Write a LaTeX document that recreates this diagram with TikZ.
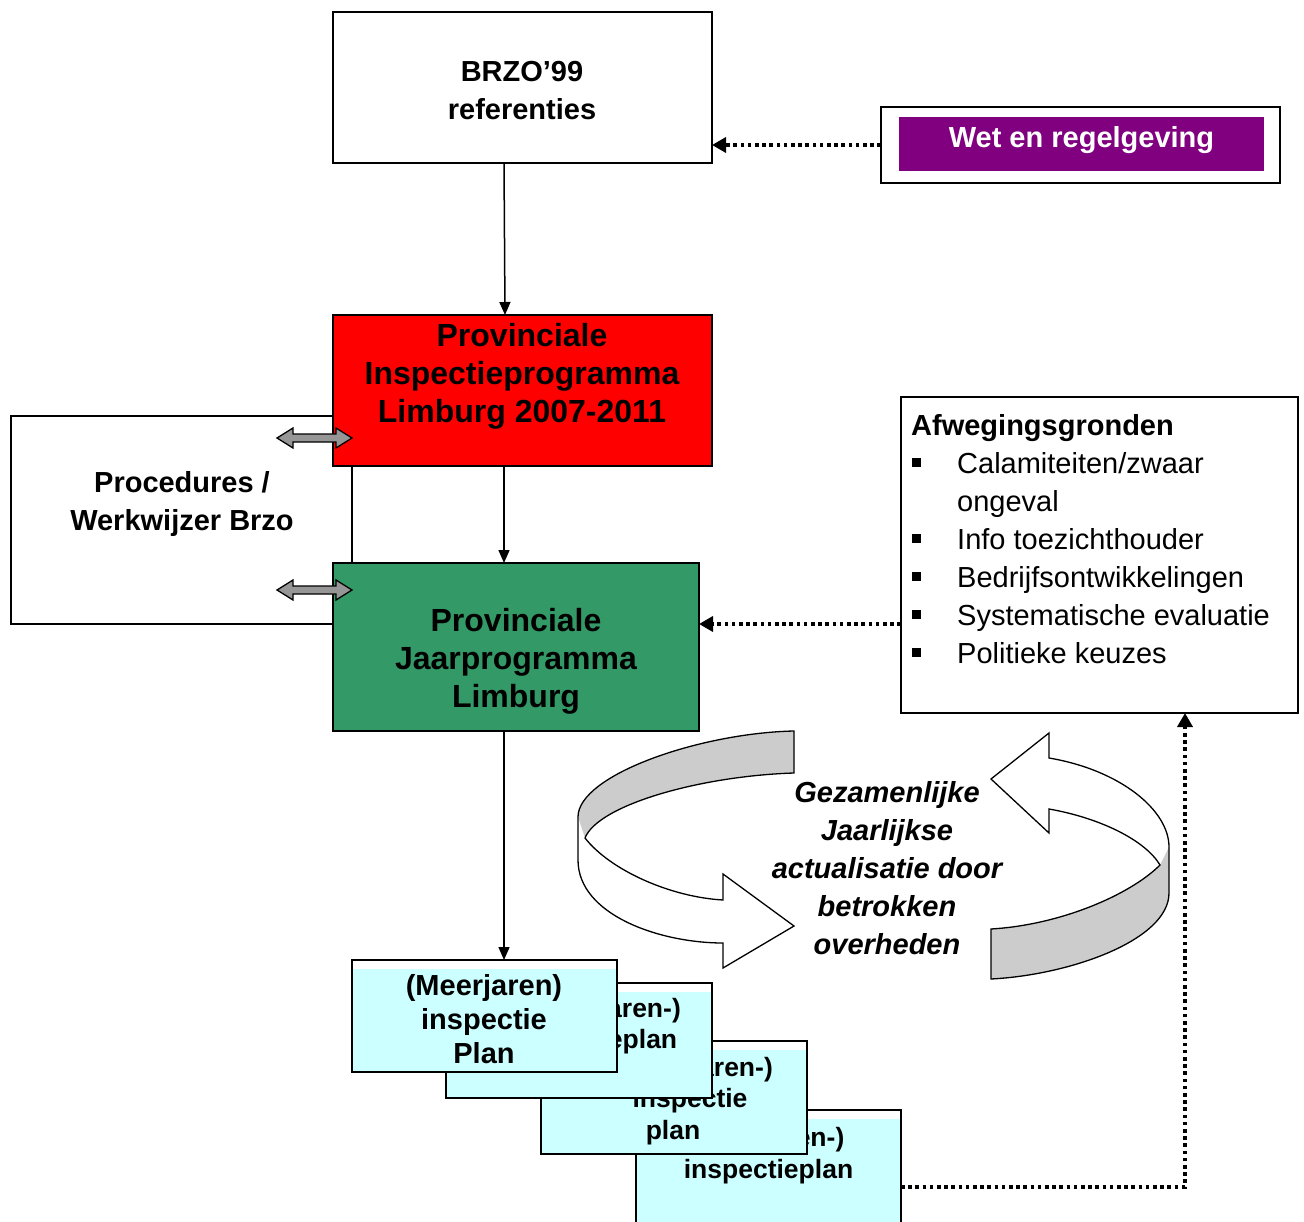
\documentclass[tikz,border=0pt]{standalone}
\usepackage{fontspec}
\setmainfont{Liberation Sans}
\usetikzlibrary{arrows.meta}
\definecolor{redbox}{HTML}{FF0000}
\definecolor{greenbox}{HTML}{339966}
\definecolor{purplebox}{HTML}{800080}
\definecolor{cyanbox}{HTML}{CCFFFF}
\definecolor{bandgray}{HTML}{CCCCCC}
\definecolor{dblgray}{HTML}{969696}
\newcommand{\afwbul}{\hspace*{1pt}\makebox[45pt][l]{\rule[6pt]{9pt}{9pt}}}
\begin{document}
\begin{tikzpicture}[x=1pt,y=-1pt,
  box/.style={draw=black, line width=1.6pt, outer sep=0pt, inner sep=0pt},
  lbl/.style={font=\bfseries\fontsize{29}{38}\selectfont, align=center, inner sep=0pt},
  big/.style={font=\bfseries\fontsize{32}{38}\selectfont, align=center, inner sep=0pt},
  plantxt/.style={font=\bfseries\fontsize{26.5}{31.5}\selectfont, align=center, inner sep=0pt},
  arr/.style={line width=1.5pt, -{Triangle[length=13pt,width=11pt]}},
  dotline/.style={line width=3.5pt, dash pattern=on 3.6pt off 3.6pt},
  dotarr/.style={dotline, -{Triangle[length=14pt,width=15pt]}},
  planbox/.style={draw=black, line width=1.4pt, fill=white, outer sep=0pt, inner sep=0pt,
    path picture={\fill[cyanbox] ([yshift=-9pt]path picture bounding box.north west) rectangle (path picture bounding box.south east);}},
  dbl/.style={draw=black, line width=1.3pt, fill=dblgray},
  ring/.style={draw=black, line width=1.3pt}
]
\clip (0,0) rectangle (1304,1222);
\fill[white] (0,0) rectangle (1304,1222);

% top box
\node[box, fill=white, minimum width=379pt, minimum height=151pt] (brzo) at (522.5,87.5) {};
\node[lbl] (brzotxt) at (522,91) {BRZO’99\\referenties};

% wet en regelgeving
\node[box, fill=white, minimum width=399pt, minimum height=76pt] (wet) at (1080.5,145) {};
\node[fill=purplebox, minimum width=365pt, minimum height=54pt, inner sep=0pt] (wetin) at (1081.5,144) {};
\node[lbl, text=white] (wettxt) at (1081.5,140) {Wet en regelgeving};
\draw[dotarr] (wet.west) -- (wet.west -| brzo.east);

% procedures box (behind)
\node[box, fill=white, minimum width=341pt, minimum height=208pt] (proc) at (181.5,520) {};
\node[lbl] (proctxt) at (182,504) {Procedures /\\Werkwijzer Brzo};

% red box
\node[box, fill=redbox, minimum width=379pt, minimum height=151pt] (red) at (522.5,390.5) {};
\node[big] (redtxt) at (522,376) {Provinciale\\Inspectieprogramma\\Limburg 2007-2011};

% green box
\node[box, fill=greenbox, minimum width=366pt, minimum height=168pt] (green) at (516,647) {};
\node[big] (greentxt) at (516,661) {Provinciale\\Jaarprogramma\\Limburg};

% afwegingsgronden
\node[box, fill=white, minimum width=397pt, minimum height=316pt] (afw) at (1099.5,555) {};
\node[anchor=north west, inner sep=0pt, align=left, font=\fontsize{29}{38}\selectfont] (afwtxt) at (911,414)
  {\textbf{Afwegingsgronden}\\
   \afwbul Calamiteiten/zwaar\\
   \hspace*{46pt}ongeval\\
   \afwbul Info toezichthouder\\
   \afwbul Bedrijfsontwikkelingen\\
   \afwbul Systematische evaluatie\\
   \afwbul Politieke keuzes};

% double arrows
\draw[dbl] (277,438) -- (293,428) -- (293,434) -- (336,434) -- (336,428) -- (352,438)
  -- (336,448) -- (336,442) -- (293,442) -- (293,448) -- cycle;
\draw[dbl] (277,590) -- (293,580) -- (293,586) -- (336,586) -- (336,580) -- (352,590)
  -- (336,600) -- (336,594) -- (293,594) -- (293,600) -- cycle;

% solid arrows
\draw[arr] ([xshift=-18.5pt]brzo.south) -- ([xshift=-17.5pt]red.north);
\draw[arr] ([xshift=-18.5pt]red.south) -- ([xshift=-12pt]green.north);

% circular arrows
% left one
\fill[white] (794,731) .. controls (700,733) and (578,775) .. (578,817) -- (578,860)
  .. controls (578,915) and (660,943) .. (723,943) -- (723,968) -- (794,926) -- (723,874) -- (723,900)
  .. controls (670,897) and (610,870) .. (585,838)
  .. controls (598,805) and (700,776) .. (794,773) -- cycle;
\fill[bandgray] (794,731) .. controls (700,733) and (578,775) .. (578,817) -- (585,838)
  .. controls (598,805) and (700,776) .. (794,773) -- cycle;
\draw[ring] (794,731) .. controls (700,733) and (578,775) .. (578,817) -- (578,860)
  .. controls (578,915) and (660,943) .. (723,943) -- (723,968) -- (794,926) -- (723,874) -- (723,900)
  .. controls (670,897) and (610,870) .. (585,838)
  .. controls (598,805) and (700,776) .. (794,773) -- cycle;
% right one
\fill[white] (1049,733) -- (991,779) -- (1049,833) -- (1049,809)
  .. controls (1100,818) and (1145,840) .. (1160,865)
  .. controls (1130,895) and (1060,925) .. (991,929) -- (991,979)
  .. controls (1070,975) and (1169,940) .. (1169,893) -- (1169,847)
  .. controls (1169,810) and (1120,770) .. (1049,758) -- cycle;
\fill[bandgray] (1160,865) .. controls (1130,895) and (1060,925) .. (991,929) -- (991,979)
  .. controls (1070,975) and (1169,940) .. (1169,893) -- (1169,847) -- cycle;
\draw[ring] (1049,733) -- (991,779) -- (1049,833) -- (1049,809)
  .. controls (1100,818) and (1145,840) .. (1160,865)
  .. controls (1130,895) and (1060,925) .. (991,929) -- (991,979)
  .. controls (1070,975) and (1169,940) .. (1169,893) -- (1169,847)
  .. controls (1169,810) and (1120,770) .. (1049,758) -- cycle;
\node[font=\bfseries\itshape\fontsize{29}{38}\selectfont, align=center, inner sep=0pt] (cycletxt) at (887,868)
  {Gezamenlijke\\Jaarlijkse\\actualisatie door\\betrokken\\overheden};

% plan stack
\node[planbox, minimum width=265pt, minimum height=130pt] (p4) at (768.5,1175) {};
\node[plantxt] (p4txt) at (768.5,1155.5) {(Meerjaren-)\\inspectieplan};
\node[planbox, minimum width=266pt, minimum height=113pt] (p3) at (674,1097.5) {};
\node[plantxt] (p3txt) at (690,1101) {(Meerjaren-)\hspace*{-14pt}\\inspectie\hspace*{-20pt}\\plan\hspace*{34pt}};
\node[planbox, minimum width=266pt, minimum height=115pt] (p2) at (579,1040.5) {};
\node[plantxt] (p2txt) at (596.5,1026) {(Meerjaren-)\hspace*{-17pt}\\inspectieplan\hspace*{8pt}};
\node[planbox, minimum width=265pt, minimum height=112pt] (p1) at (484.5,1016) {};
\node[font=\bfseries\fontsize{29}{34}\selectfont, align=center, inner sep=0pt] (p1txt) at (484,1019) {(Meerjaren)\\inspectie\\Plan};

\draw[arr] ([xshift=-12pt]green.south) -- ([xshift=19.5pt]p1.north);

% dotted feedback
\draw[dotarr] ([yshift=-12pt]p4.east) -| ([xshift=85.5pt]afw.south);
\draw[dotarr] ([yshift=-69pt]afw.west) -- ([yshift=23pt]green.east);
\end{tikzpicture}
\end{document}
